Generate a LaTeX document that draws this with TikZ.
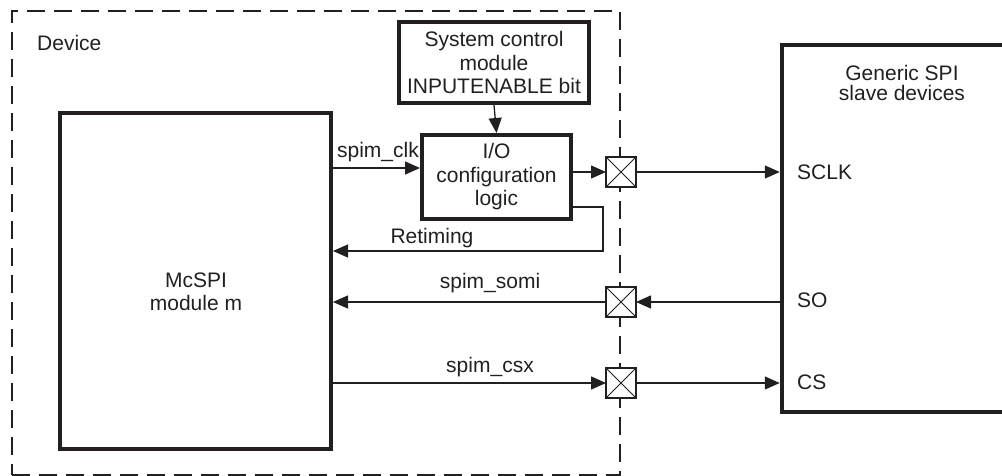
\documentclass[tikz,border=0pt]{standalone}
\usepackage{fontspec}
\setmainfont{Liberation Sans}
\usetikzlibrary{arrows.meta}
\definecolor{ink}{RGB}{35,31,32}
\begin{document}
\begin{tikzpicture}[x=1pt,y=-1pt,
  every node/.style={text=ink,font=\fontsize{21}{23.5}\selectfont},
  arr/.style={draw=ink,line width=1.3pt,-{Triangle[length=15pt,width=13pt]}},
  block/.style={draw=ink,line width=4pt,align=center,inner sep=0pt},
  pad/.style={draw=ink,line width=2.2pt,fill=white,minimum size=30pt,inner sep=0pt,outer sep=0pt},
  lbl/.style={inner sep=0pt,align=center},
  devbox/.style={draw=ink,line width=2.8pt,dash pattern=on 18pt off 9pt,minimum width=608pt,minimum height=464pt,inner sep=0pt}
]
\useasboundingbox (0,0) rectangle (1002,476);
% device boundary
\node[devbox] (device) at (316,243) {};
\node[lbl,anchor=west] (devlbl) at (37,43) {Device};
% blocks
\node[block,minimum width=271pt,minimum height=336pt] (mcspi) at (195.5,281) {};
\node[lbl] (mctext) at (196,292) {McSPI\\module m};
\node[block,minimum width=190pt,minimum height=81pt] (sys) at (494,62.5) {System control\\module\\INPUTENABLE bit};
\node[block,minimum width=149pt,minimum height=84pt] (io) at (496.5,177) {I/O\\configuration\\logic};
\node[draw=ink,line width=4.5pt,minimum width=260pt,minimum height=367pt,inner sep=0pt] (slave) at (912,228.5) {};
\node[lbl,font=\fontsize{21}{20}\selectfont] (slavetext) at (902,83) {Generic SPI\\slave devices};
% pads
\node[pad] (p1) at (621,172) {};
\node[pad] (p2) at (621,302) {};
\node[pad] (p3) at (621,383) {};
\foreach \p in {p1,p2,p3}
  \draw[draw=ink,line width=1pt] (\p.north west) -- (\p.south east) (\p.north east) -- (\p.south west);
% slave pins
\node[lbl,anchor=west] (sclk) at (797,172) {SCLK};
\node[lbl,anchor=west] (so) at (797,300) {SO};
\node[lbl,anchor=west] (cs) at (797,382) {CS};
% connectors
\draw[arr] (sys.south) -- (io.north);
\coordinate (clkin) at ([yshift=9pt]io.west);
\draw[arr] (mcspi.east |- clkin) -- (clkin);
\node[lbl] (clklbl) at (378,152) {spim\_clk};
\draw[arr] ([yshift=5pt]io.east) -- (p1.west);
\draw[arr] (p1.east) -- (slave.west |- p1);
\draw[arr] ([yshift=-30pt]io.east) -- ++(30,0) |- (mcspi.east |- 0,251);
\node[lbl] (retlbl) at (432,238) {Retiming};
\draw[arr] (p2.west) -- (mcspi.east |- p2);
\draw[arr] (slave.west |- p2) -- (p2.east);
\node[lbl] (somilbl) at (490,283) {spim\_somi};
\draw[arr] (mcspi.east |- p3) -- (p3.west);
\draw[arr] (p3.east) -- (slave.west |- p3);
\node[lbl] (csxlbl) at (490,367) {spim\_csx};
\end{tikzpicture}
\end{document}
